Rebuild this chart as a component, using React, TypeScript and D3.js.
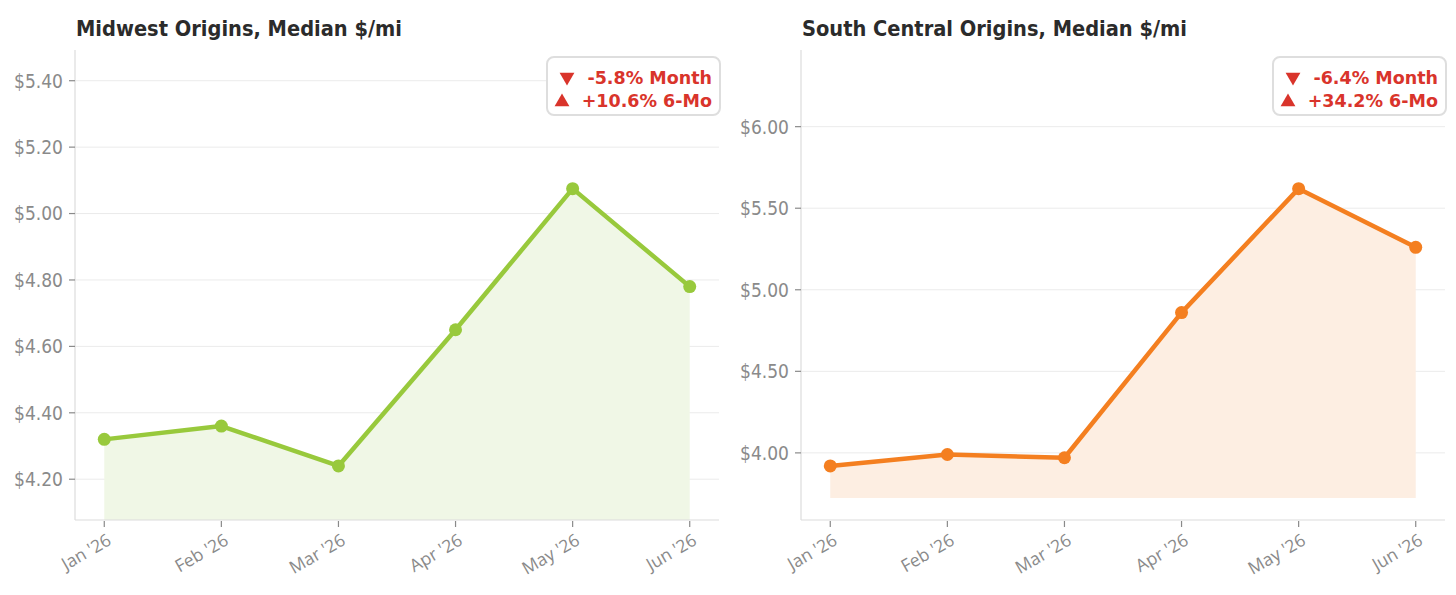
import React, { useEffect } from "react";
import * as d3 from "d3";

const months = ["Jan '26", "Feb '26", "Mar '26", "Apr '26", "May '26", "Jun '26"];
const midwestValues = [4.32, 4.36, 4.24, 4.65, 5.075, 4.78];
const southCentralValues = [3.92, 3.99, 3.97, 4.86, 5.62, 5.26];
const midwestTicks = [4.2, 4.4, 4.6, 4.8, 5.0, 5.2, 5.4];
const southCentralTicks = [4.0, 4.5, 5.0, 5.5, 6.0];

const WIDTH = 1456;
const HEIGHT = 595;
const PANEL_W = 728;
const margin = { top: 50, right: 9, bottom: 75, left: 75 };

interface PanelProps {
  x0: number;
  title: string;
  titleWidth: number;
  values: number[];
  ticks: number[];
  color: string;
  fill: string;
  monthChange: string;
  sixMoChange: string;
}

const Panel: React.FC<PanelProps> = ({
  x0,
  title,
  titleWidth,
  values,
  ticks,
  color,
  fill,
  monthChange,
  sixMoChange,
}) => {
  const innerW = PANEL_W - margin.left - margin.right;
  const innerH = HEIGHT - margin.top - margin.bottom;
  const lo = d3.min(values) || 0;
  const hi = d3.max(values) || 0;
  const range = hi - lo;

  const x = d3.scalePoint<string>().domain(months).range([0, innerW]).padding(0.25);
  const y = d3
    .scaleLinear()
    .domain([lo - range * 0.195, hi + range * 0.5])
    .range([innerH, 0]);

  // shaded area stops at 95% of the lowest value (clipped to the plot)
  const baseline = Math.min(y(lo * 0.95), innerH);
  const pts = months.map((m, i) => ({ m, v: values[i] }));

  const line = d3
    .line<{ m: string; v: number }>()
    .x((d) => x(d.m) || 0)
    .y((d) => y(d.v));
  const area = d3
    .area<{ m: string; v: number }>()
    .x((d) => x(d.m) || 0)
    .y0(baseline)
    .y1((d) => y(d.v));

  const red = "#d9342b";
  const gray = "#8a8a8a";
  const tri = d3.symbol(d3.symbolTriangle, 95)() || "";

  return (
    <g transform={`translate(${x0},0)`}>
      <text
        x={margin.left + 1}
        y={36}
        fontFamily="DejaVu Sans"
        fontWeight="bold"
        fontSize={21}
        textLength={titleWidth}
        lengthAdjust="spacingAndGlyphs"
        fill="#2b2b2b"
      >
        {title}
      </text>
      <g transform={`translate(${margin.left},${margin.top})`}>
        {/* grid */}
        {ticks.map((t) => (
          <line key={t} x1={0} x2={innerW} y1={y(t)} y2={y(t)} stroke="#ebebeb" strokeWidth={1} />
        ))}
        <path d={area(pts) || ""} fill={fill} />
        <path d={line(pts) || ""} fill="none" stroke={color} strokeWidth={4.5} strokeLinejoin="round" />
        {pts.map((d) => (
          <circle key={d.m} cx={x(d.m)} cy={y(d.v)} r={6.5} fill={color} />
        ))}
        {/* y axis */}
        <line x1={0} x2={0} y1={0} y2={innerH} stroke="#dcdcdc" strokeWidth={1.2} />
        {ticks.map((t) => (
          <g key={t} transform={`translate(0,${y(t)})`}>
            <line x1={-6} x2={0} stroke={gray} strokeWidth={1.2} />
            <text
              x={-12}
              dy="0.36em"
              textAnchor="end"
              fontFamily="DejaVu Sans"
              fontSize={19}
              textLength={49}
              lengthAdjust="spacingAndGlyphs"
              fill={gray}
            >
              {d3.format("$.2f")(t)}
            </text>
          </g>
        ))}
        {/* x axis */}
        <line x1={0} x2={innerW} y1={innerH} y2={innerH} stroke="#dcdcdc" strokeWidth={1.2} />
        {months.map((m) => (
          <g key={m} transform={`translate(${x(m)},${innerH})`}>
            <line y1={1} y2={7} stroke={gray} strokeWidth={1.2} />
            <text
              transform="translate(2,13) rotate(-30)"
              textAnchor="end"
              dy="0.71em"
              fontFamily="Open Sans"
              fontSize={17.5}
              fill={gray}
            >
              {m}
            </text>
          </g>
        ))}
        {/* change badge */}
        <g transform={`translate(${innerW - 172},7)`}>
          <rect width={173} height={58} rx={7} fill="#fff" stroke="#dedede" strokeWidth={2} />
          <g fontFamily="DejaVu Sans" fontWeight="bold" fontSize={17.5} fill={red}>
            <text x={165} y={27} textAnchor="end">
              {monthChange} Month
            </text>
            <text x={165} y={50} textAnchor="end">
              {sixMoChange} 6-Mo
            </text>
          </g>
          <path d={tri} transform="translate(20,20) rotate(180)" fill={red} />
          <path d={tri} transform="translate(15,45)" fill={red} />
        </g>
      </g>
    </g>
  );
};

const App: React.FC = () => {
  useEffect(() => {
    document.body.style.margin = "0";
  }, []);

  return (
    <svg width={WIDTH} height={HEIGHT} style={{ display: "block", background: "#fff" }}>
      <Panel
        x0={0}
        title="Midwest Origins, Median $/mi"
        titleWidth={326}
        values={midwestValues}
        ticks={midwestTicks}
        color="#98c93c"
        fill="#f0f7e6"
        monthChange="-5.8%"
        sixMoChange="+10.6%"
      />
      <Panel
        x0={726}
        title="South Central Origins, Median $/mi"
        titleWidth={385}
        values={southCentralValues}
        ticks={southCentralTicks}
        color="#f47f20"
        fill="#fdeee2"
        monthChange="-6.4%"
        sixMoChange="+34.2%"
      />
    </svg>
  );
};

export default App;
